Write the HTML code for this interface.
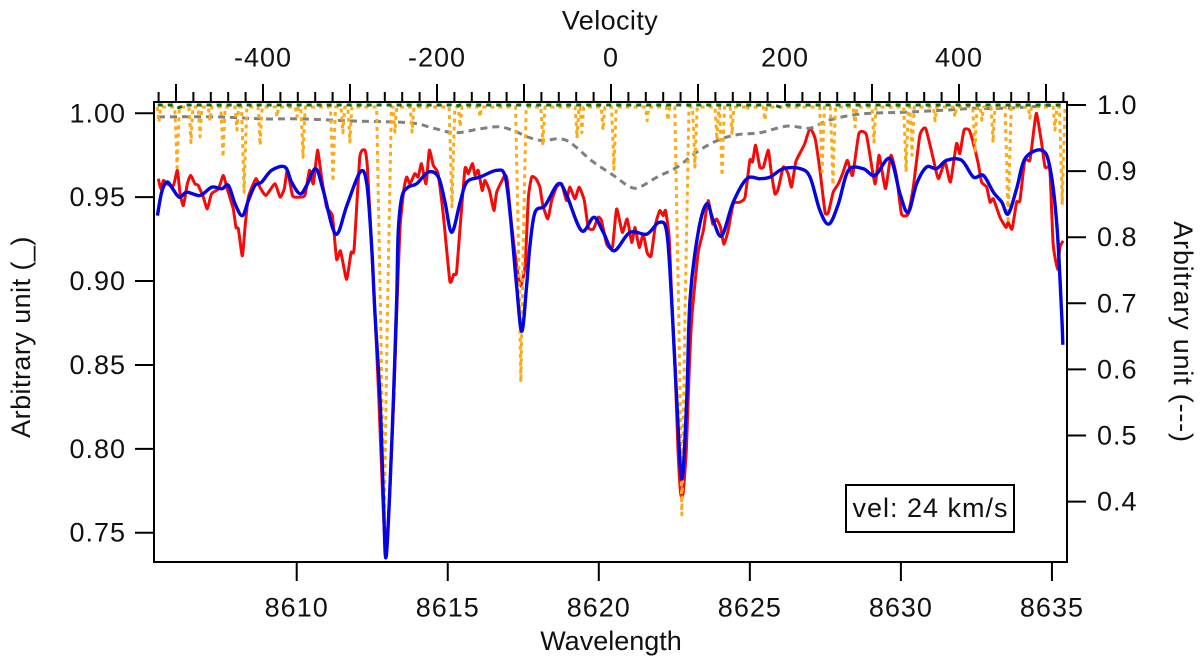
<!DOCTYPE html>
<html lang="en">
<head>
<meta charset="utf-8">
<title>Spectrum chart</title>
<style>
  html,body{margin:0;padding:0;background:#fff;}
  svg{display:block;}
  text{font-family:"Liberation Sans",sans-serif;font-size:27px;fill:#111;}
  .tick-text{letter-spacing:1px;}
</style>
</head>
<body>
<svg id="chart" xmlns="http://www.w3.org/2000/svg" width="1200" height="660" viewBox="0 0 1200 660">
  <rect x="0" y="0" width="1200" height="660" fill="#fff"/>
  <g id="series"></g>
  <rect x="154" y="102" width="913" height="460" fill="none" stroke="#000" stroke-width="2"/>
  <g id="axes"></g>
  <text x="610" y="29.5" text-anchor="middle" style="letter-spacing:.4px">Velocity</text>
  <text x="611" y="650" text-anchor="middle">Wavelength</text>
  <text transform="translate(30 337) rotate(-90)" text-anchor="middle" style="letter-spacing:.45px">Arbitrary unit (_)</text>
  <text transform="translate(1174 332) rotate(90)" text-anchor="middle" style="letter-spacing:.8px">Arbitrary unit (---)</text>
  <g>
    <rect x="846" y="485" width="168" height="47" fill="#fff" stroke="#000" stroke-width="2"/>
    <text x="930.5" y="517" text-anchor="middle" style="letter-spacing:1px">vel: 24 km/s</text>
  </g>
</svg>
<script>
// Axis ticks
const wavelengthTicks = [8610, 8615, 8620, 8625, 8630, 8635];
const leftTicks = ["1.00", "0.95", "0.90", "0.85", "0.80", "0.75"];
const rightTicks = ["1.0", "0.9", "0.8", "0.7", "0.6", "0.5", "0.4"];
const velocityLabels = [-400, -200, 0, 200, 400];

// Observed spectrum (red), left axis
const redWave = [8605.42,8605.50,8605.59,8605.70,8605.92,8606.05,8606.14,8606.25,8606.38,8606.49,8606.63,8606.74,8606.91,8607.04,8607.18,8607.41,8607.57,8607.70,8607.90,8607.99,8608.07,8608.20,8608.29,8608.40,8608.65,8608.78,8608.98,8609.28,8609.45,8609.59,8609.69,8609.86,8610.00,8610.27,8610.42,8610.55,8610.69,8610.82,8610.99,8611.18,8611.32,8611.45,8611.65,8611.80,8611.90,8612.09,8612.26,8612.34,8612.48,8612.59,8612.72,8612.85,8612.95,8613.07,8613.21,8613.31,8613.42,8613.55,8613.64,8613.75,8613.91,8614.02,8614.13,8614.28,8614.39,8614.52,8614.68,8614.85,8615.07,8615.20,8615.29,8615.40,8615.57,8615.68,8615.82,8615.90,8616.01,8616.14,8616.23,8616.38,8616.53,8616.62,8616.89,8616.97,8617.11,8617.28,8617.41,8617.56,8617.67,8617.78,8617.92,8618.05,8618.14,8618.31,8618.44,8618.60,8618.77,8618.93,8619.04,8619.21,8619.35,8619.52,8619.65,8619.82,8619.98,8620.09,8620.26,8620.45,8620.59,8620.78,8620.94,8621.09,8621.20,8621.34,8621.47,8621.60,8621.73,8621.88,8622.02,8622.13,8622.21,8622.33,8622.41,8622.52,8622.62,8622.70,8622.75,8622.80,8622.90,8623.00,8623.09,8623.29,8623.46,8623.62,8623.77,8623.90,8624.03,8624.14,8624.28,8624.45,8624.67,8624.84,8625.00,8625.09,8625.19,8625.33,8625.45,8625.61,8625.70,8625.83,8625.94,8626.11,8626.27,8626.38,8626.52,8626.71,8626.82,8626.99,8627.16,8627.32,8627.49,8627.60,8627.76,8627.93,8628.09,8628.23,8628.40,8628.61,8628.86,8629.14,8629.28,8629.49,8629.67,8629.86,8630.02,8630.24,8630.41,8630.63,8630.82,8631.07,8631.24,8631.46,8631.64,8631.84,8631.95,8632.09,8632.26,8632.40,8632.56,8632.67,8632.84,8632.95,8633.06,8633.28,8633.48,8633.55,8633.68,8633.83,8633.94,8634.10,8634.27,8634.40,8634.49,8634.66,8634.77,8634.93,8635.04,8635.19,8635.26,8635.37];
const redFlux = [.961,.955,.960,.958,.957,.966,.952,.945,.958,.963,.958,.957,.950,.943,.952,.955,.963,.955,.943,.932,.931,.915,.932,.950,.961,.956,.951,.958,.950,.955,.966,.951,.950,.951,.966,.958,.978,.962,.944,.939,.913,.918,.901,.917,.919,.974,.978,.968,.920,.881,.829,.770,.737,.770,.829,.881,.932,.955,.962,.958,.964,.962,.970,.958,.978,.969,.964,.940,.900,.904,.905,.930,.967,.964,.970,.963,.966,.954,.960,.954,.942,.953,.963,.960,.934,.909,.897,.909,.950,.962,.961,.956,.946,.937,.948,.956,.958,.948,.956,.949,.956,.948,.932,.931,.938,.936,.922,.920,.943,.929,.937,.923,.932,.920,.928,.917,.915,.934,.942,.939,.942,.926,.891,.850,.800,.775,.771,.775,.800,.850,.881,.917,.930,.948,.934,.937,.932,.922,.930,.946,.947,.950,.972,.971,.981,.968,.968,.978,.966,.952,.955,.968,.964,.956,.971,.978,.982,.991,.985,.966,.941,.941,.953,.958,.965,.972,.963,.988,.987,.958,.975,.955,.975,.962,.940,.940,.956,.987,.991,.973,.961,.971,.959,.982,.976,.990,.990,.982,.970,.959,.956,.947,.949,.938,.932,.935,.931,.947,.948,.972,.972,.990,1.000,.982,.968,.966,.922,.907,.920,.924];

// Model spectrum (blue), left axis
const blueWave = [8605.39,8605.53,8605.70,8605.86,8606.11,8606.36,8606.80,8607.19,8607.52,8607.74,8607.96,8608.20,8608.40,8608.62,8608.84,8609.17,8609.61,8609.83,8610.11,8610.33,8610.63,8610.88,8611.29,8611.66,8612.10,8612.32,8612.48,8612.59,8612.76,8612.87,8612.95,8613.07,8613.20,8613.31,8613.36,8613.48,8613.69,8613.97,8614.36,8614.69,8614.91,8615.13,8615.41,8615.63,8616.07,8616.62,8616.89,8617.06,8617.28,8617.45,8617.61,8617.72,8617.89,8618.22,8618.66,8618.94,8619.43,8619.84,8620.15,8620.50,8621.03,8621.59,8622.00,8622.25,8622.41,8622.58,8622.75,8622.91,8623.02,8623.29,8623.57,8623.79,8624.07,8624.45,8624.90,8625.34,8625.67,8626.11,8626.66,8626.99,8627.32,8627.62,8627.93,8628.26,8628.75,8629.14,8629.64,8629.97,8630.24,8630.52,8630.85,8631.18,8631.52,8632.01,8632.40,8632.73,8633.06,8633.34,8633.55,8633.83,8634.11,8634.66,8634.93,8635.16,8635.32,8635.36];
const blueFlux = [.939,.953,.959,.956,.950,.953,.951,.956,.955,.957,.946,.939,.948,.957,.959,.966,.968,.959,.952,.957,.967,.954,.928,.945,.965,.958,.921,.881,.829,.770,.735,.770,.829,.889,.929,.950,.956,.958,.965,.962,.947,.929,.947,.959,.962,.966,.963,.941,.897,.870,.897,.921,.941,.945,.958,.951,.930,.938,.929,.918,.929,.928,.935,.929,.889,.829,.782,.829,.889,.929,.946,.936,.927,.947,.961,.961,.962,.967,.967,.962,.942,.934,.946,.966,.967,.963,.973,.952,.941,.958,.968,.967,.972,.972,.962,.963,.953,.947,.940,.955,.973,.978,.968,.934,.881,.862];

// Synthetic absorption lines (orange), right axis
const lineCenters = [8605.44,8606.04,8606.50,8606.80,8607.13,8607.56,8608.02,8608.26,8608.79,8609.35,8610.01,8610.21,8611.20,8611.53,8611.76,8612.89,8613.25,8613.82,8615.14,8615.41,8616.07,8617.42,8618.15,8619.28,8619.44,8620.14,8620.50,8621.60,8622.29,8622.75,8623.18,8623.91,8624.08,8624.41,8624.90,8625.50,8627.39,8627.75,8628.48,8629.11,8630.17,8630.37,8631.13,8631.79,8632.45,8632.68,8633.05,8633.55,8634.27,8635.10,8635.34];
const lineMinima = [.974,.905,.943,.952,.976,.921,.962,.868,.939,.982,.982,.921,.884,.958,.944,.352,.959,.959,.846,.967,.982,.581,.939,.950,.958,.962,.903,.976,.977,.380,.906,.947,.893,.955,.992,.977,.899,.879,.967,.944,.899,.924,.976,.982,.927,.977,.943,.826,.980,.962,.849];

// Telluric trace (grey dashed), right axis
const greyWave = [8605.41,8607.36,8608.88,8610.11,8611.76,8613.75,8614.51,8615.25,8616.07,8616.73,8617.29,8617.62,8618.15,8618.62,8618.95,8619.28,8619.81,8620.47,8621.03,8621.36,8621.93,8622.59,8623.25,8623.91,8624.57,8625.33,8626.23,8626.99,8627.55,8628.41,8629.21,8630.07,8631.39,8632.39,8633.38,8635.27];
const greyFlux = [.982,.982,.979,.979,.976,.973,.965,.958,.964,.967,.959,.952,.946,.949,.946,.935,.914,.894,.876,.876,.891,.906,.929,.946,.955,.958,.968,.965,.976,.985,.988,.989,.992,.995,.995,1.000];

// Green dashed trace, right axis
const greenWave = [8605.40,8605.90,8606.10,8606.30,8610.00,8615.10,8615.25,8615.40,8620.00,8625.80,8626.00,8626.20,8630.00,8635.40];
const greenFlux = [1.000,1.000,.996,1.000,1.000,1.000,.998,1.000,1.000,1.000,.997,1.000,1.000,1.000];

const SVG_NS = "http://www.w3.org/2000/svg";
const seriesLayer = document.getElementById("series");
const axesLayer = document.getElementById("axes");

function xWave(w) { return 296.7 + (w - 8610) * 30.21; }
function xVel(v) { return 611 + v * 0.87; }
function yLeft(f) { return 113.3 + (1 - f) * 1677.6; }
function yRight(f) { return 105 + (1 - f) * 661; }

function linePath(pts) {
  return pts.map(function (p, i) { return (i ? "L" : "M") + p[0].toFixed(2) + " " + p[1].toFixed(2); }).join("");
}
function smoothPath(pts, k) {
  let d = "M" + pts[0][0].toFixed(2) + " " + pts[0][1].toFixed(2);
  for (let i = 0; i < pts.length - 1; i++) {
    const p0 = pts[Math.max(i - 1, 0)], p1 = pts[i], p2 = pts[i + 1], p3 = pts[Math.min(i + 2, pts.length - 1)];
    const c1x = p1[0] + (p2[0] - p0[0]) / k, c1y = p1[1] + (p2[1] - p0[1]) / k;
    const c2x = p2[0] - (p3[0] - p1[0]) / k, c2y = p2[1] - (p3[1] - p1[1]) / k;
    d += "C" + c1x.toFixed(2) + " " + c1y.toFixed(2) + " " + c2x.toFixed(2) + " " + c2y.toFixed(2) + " " + p2[0].toFixed(2) + " " + p2[1].toFixed(2);
  }
  return d;
}
function addPath(d, color, width, dash) {
  const el = document.createElementNS(SVG_NS, "path");
  el.setAttribute("d", d);
  el.setAttribute("fill", "none");
  el.setAttribute("stroke", color);
  el.setAttribute("stroke-width", width);
  el.setAttribute("stroke-linejoin", "round");
  if (dash) el.setAttribute("stroke-dasharray", dash);
  seriesLayer.appendChild(el);
  return el;
}
function addLine(x1, y1, x2, y2) {
  const el = document.createElementNS(SVG_NS, "line");
  el.setAttribute("x1", x1);
  el.setAttribute("y1", y1);
  el.setAttribute("x2", x2);
  el.setAttribute("y2", y2);
  el.setAttribute("stroke", "#000");
  el.setAttribute("stroke-width", 2);
  axesLayer.appendChild(el);
  return el;
}
function addLabel(x, y, anchor, str) {
  const el = document.createElementNS(SVG_NS, "text");
  el.setAttribute("x", x);
  el.setAttribute("y", y);
  el.setAttribute("text-anchor", anchor);
  el.setAttribute("class", "tick-text");
  el.textContent = str;
  axesLayer.appendChild(el);
  return el;
}

// Series
const redPts = redWave.map(function (w, i) { return [xWave(w), yLeft(redFlux[i])]; });
const redEl = addPath(smoothPath(redPts, 12), "#f50a0a", 3);



const greyPts = greyWave.map(function (w, i) { return [xWave(w), yRight(greyFlux[i])]; });
const greyEl = addPath(smoothPath(greyPts, 6), "#808080", 3, "7 5");



const orangePts = [];
lineCenters.forEach(function (c, i) {
  const m = lineMinima[i];
  const top = 0.997;
  const halfWidth = 0.05 + 0.3 * (1 - m);
  const mid = (top + m) / 2;
  orangePts.push([xWave(c - halfWidth), yRight(top)]);
  orangePts.push([xWave(c - halfWidth * 0.45), yRight(mid)]);
  orangePts.push([xWave(c), yRight(m)]);
  orangePts.push([xWave(c + halfWidth * 0.45), yRight(mid)]);
  orangePts.push([xWave(c + halfWidth), yRight(top)]);
});
const orangeEl = addPath(linePath(orangePts), "#fbab18", 3, "4 4");



const greenPts = greenWave.map(function (w, i) { return [xWave(w), yRight(greenFlux[i])]; });
const greenEl = addPath(linePath(greenPts), "#0b6b12", 3, "5 5");



const bluePts = blueWave.map(function (w, i) { return [xWave(w), yLeft(blueFlux[i])]; });
const blueEl = addPath(smoothPath(bluePts, 6), "#0505e0", 3.4);



// Axes
wavelengthTicks.forEach(function (t) {
  const x = xWave(t);
  const tick = addLine(x, 562, x, 581);
  
  
  const label = addLabel(x, 616.5, "middle", String(t));
  
  
});
leftTicks.forEach(function (t) {
  const y = yLeft(parseFloat(t));
  const tick = addLine(135, y, 154, y);
  
  
  const label = addLabel(126, y + 9, "end", t);
  
  
});
rightTicks.forEach(function (t) {
  const y = yRight(parseFloat(t));
  const tick = addLine(1067, y, 1086, y);
  
  
  const label = addLabel(1097, y + 9, "start", t);
  
  
});
for (let v = -520; v <= 520; v += 20) {
  const x = xVel(v);
  const major = v % 100 === 0;
  const tick = addLine(x, major ? 84 : 92, x, 102);
  
  
}
velocityLabels.forEach(function (v) {
  const label = addLabel(xVel(v), 66.5, "middle", String(v));
  
  
});
</script>
</body>
</html>
